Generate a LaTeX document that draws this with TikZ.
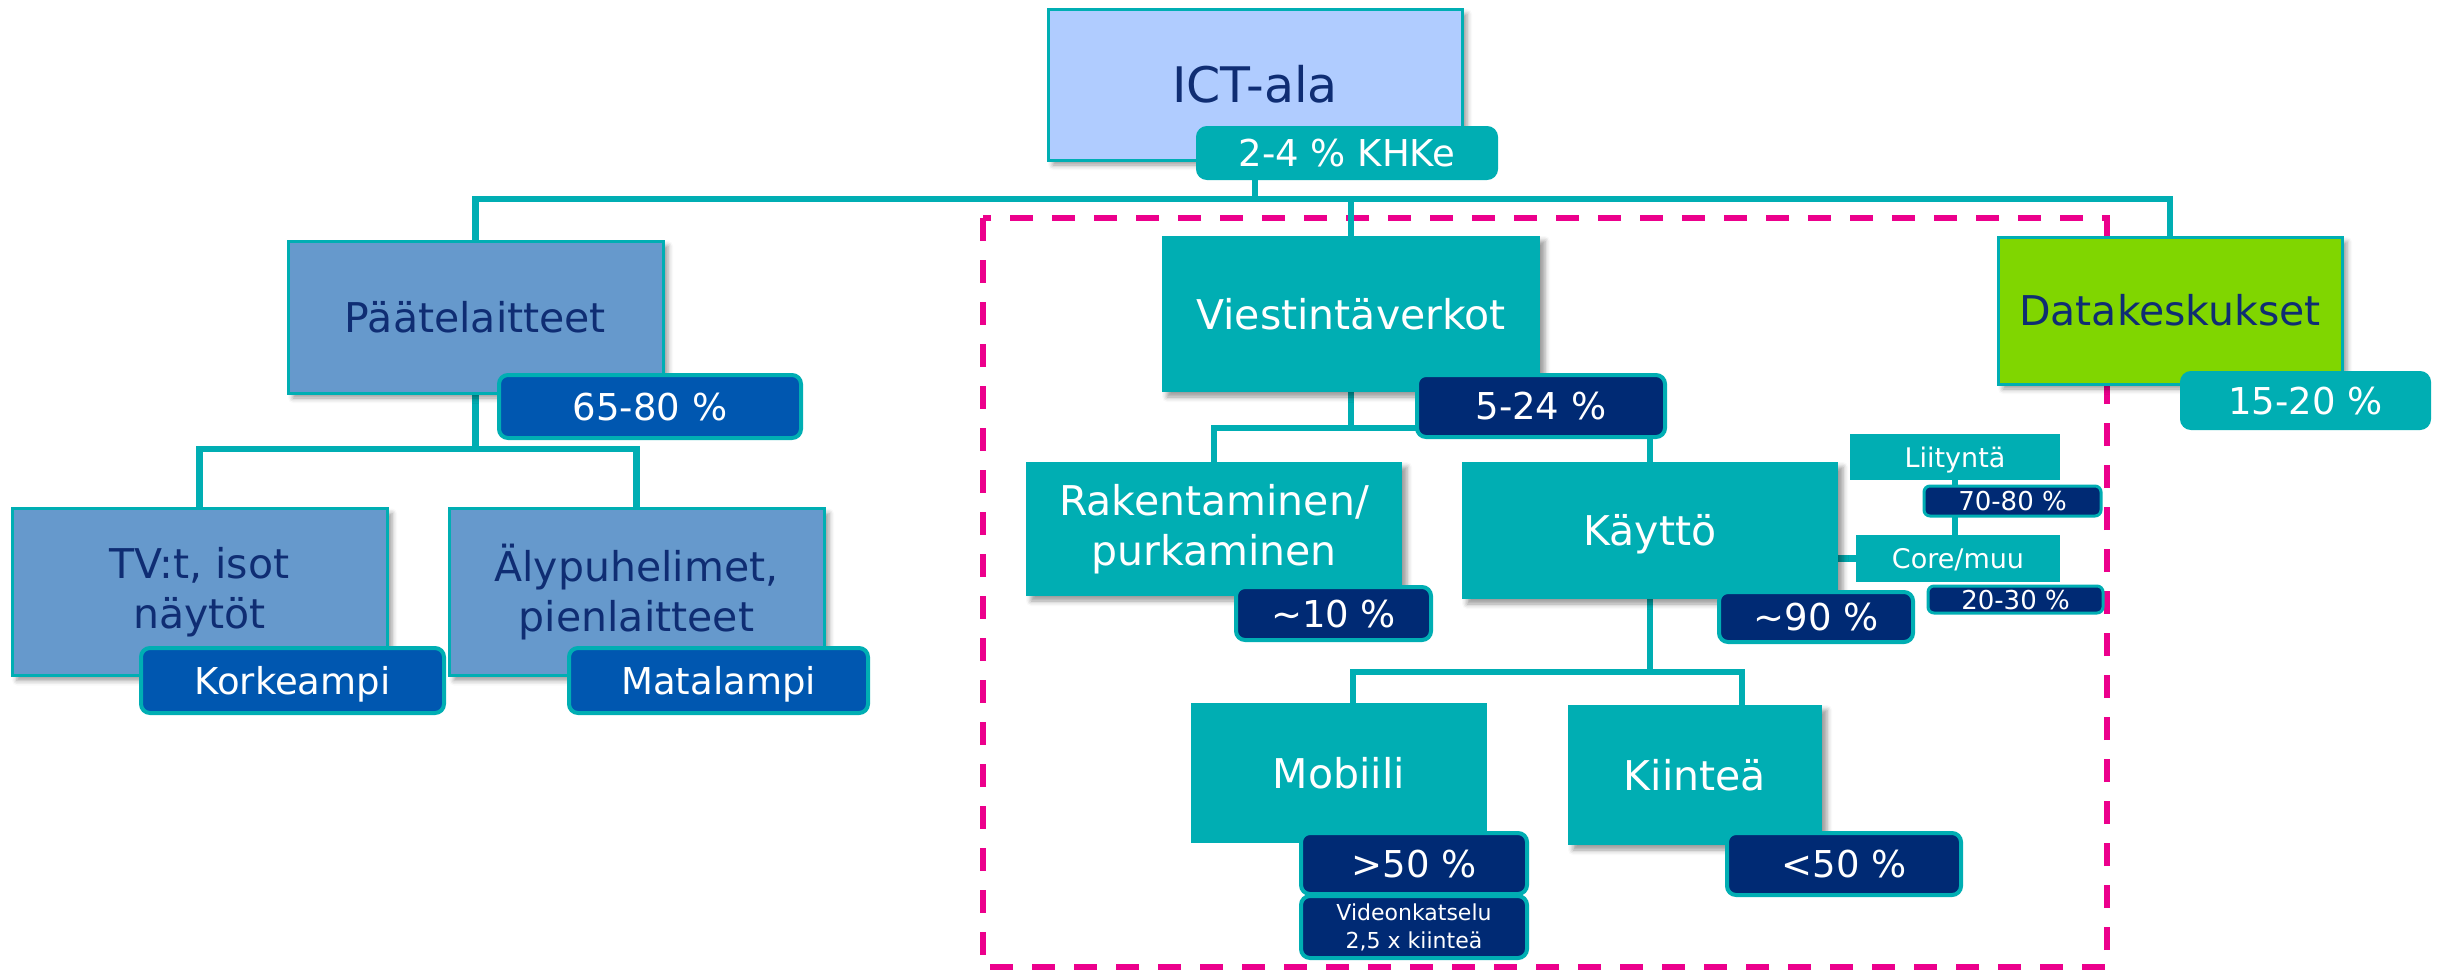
\documentclass[tikz,border=0pt]{standalone}
\usepackage{fontspec}
\setmainfont{DejaVu Sans}
\usetikzlibrary{shadows.blur,backgrounds,calc}
\definecolor{tealc}{HTML}{00AEB3}
\definecolor{navytag}{HTML}{002A74}
\definecolor{bluetag}{HTML}{0057B0}
\definecolor{navytxt}{HTML}{0F2D73}
\definecolor{lightbox}{HTML}{6699CC}
\definecolor{ictblue}{HTML}{B0CCFF}
\definecolor{greenc}{HTML}{80D600}
\definecolor{pinkc}{HTML}{EC008C}
\newcommand\myfict{\fontsize{49pt}{58pt}\selectfont}
\newcommand\myfbig{\fontsize{41pt}{50pt}\selectfont}
\newcommand\myftag{\fontsize{37pt}{44pt}\selectfont}
\newcommand\myfsmall{\fontsize{27pt}{32pt}\selectfont}
\newcommand\myfsmtag{\fontsize{26pt}{30pt}\selectfont}
\newcommand\myfvid{\fontsize{22pt}{28pt}\selectfont}
\begin{document}
\begin{tikzpicture}[x=1pt,y=-1pt,
  conn/.style={draw=tealc,line width=6.5pt},
  big/.style={rectangle,inner sep=0pt,align=center,font=\myfbig},
  oneline/.style={text height=30pt,text depth=0pt},
  shad/.style={blur shadow={shadow xshift=5pt,shadow yshift=-5pt,shadow blur radius=5pt,shadow opacity=40}},
  light/.style={big,shad,draw=tealc,line width=3pt,text=navytxt},
  tealbox/.style={big,fill=tealc,text=white},
  tagbase/.style={rectangle,rounded corners=9pt,draw=tealc,line width=4pt,inner sep=0pt,text=white,align=center},
  tag/.style={tagbase,font=\myftag,text height=27pt,text depth=0pt},
  smallbox/.style={rectangle,inner sep=0pt,fill=tealc,text=white,font=\myfsmall,text height=20pt,text depth=0pt},
  smalltag/.style={tagbase,fill=navytag,rounded corners=6pt,line width=3pt,font=\myfsmtag,text height=19pt,text depth=0pt},
  frame/.style={draw=pinkc,line width=5.5pt,dash pattern=on 23pt off 19pt}
]
\useasboundingbox (0,0) rectangle (2438,972);

% top
\node[light,fill=ictblue,font=\myfict,text height=36pt,text depth=0pt,minimum width=414pt,minimum height=151pt] (ict) at (1255,84.5) {ICT-ala};
\node[tag,fill=tealc,minimum width=298pt,minimum height=50pt] (ictT) at (1347,153) {2-4 \% KHKe};

% level 1
\node[light,oneline,fill=lightbox,minimum width=375pt,minimum height=152pt] (paat) at (475.5,317) {Päätelaitteet};
\node[tag,fill=bluetag,minimum width=302pt,minimum height=63pt] (paatT) at (650,406.5) {65-80 \%};

\node[tealbox,oneline,shad,minimum width=378pt,minimum height=156pt] (viest) at (1351,314) {Viestintäverkot};
\node[tag,fill=navytag,minimum width=248pt,minimum height=62pt] (viestT) at (1541,406) {5-24 \%};

\node[light,oneline,fill=greenc,minimum width=344pt,minimum height=147pt] (data) at (2170,310.5) {Datakeskukset};
\node[tag,fill=tealc,minimum width=247pt,minimum height=55pt] (dataT) at (2305.5,400.5) {15-20 \%};

% level 2 left
\node[light,fill=lightbox,minimum width=375pt,minimum height=167pt] (tv) at (199.5,592) {TV:t, isot\\näytöt};
\node[tag,fill=bluetag,minimum width=303pt,minimum height=65pt] (tvT) at (292.5,680.5) {Korkeampi};
\node[light,fill=lightbox,minimum width=375pt,minimum height=167pt] (aly) at (636.5,592) {Älypuhelimet,\\pienlaitteet};
\node[tag,fill=bluetag,minimum width=299pt,minimum height=65pt] (alyT) at (718.5,680.5) {Matalampi};

% level 2 middle
\node[tealbox,shad,minimum width=376pt,minimum height=134pt] (rak) at (1214,529) {Rakentaminen/\\purkaminen};
\node[tag,fill=navytag,minimum width=195pt,minimum height=53pt] (rakT) at (1333.5,613.5) {\textasciitilde10 \%};
\node[tealbox,oneline,shad,minimum width=376pt,minimum height=137pt] (kay) at (1650,530.5) {Käyttö};
\node[tag,fill=navytag,minimum width=194pt,minimum height=50pt] (kayT) at (1816,617) {\textasciitilde90 \%};

% Liityntä / Core
\node[smallbox,minimum width=210pt,minimum height=46pt] (lii) at (1955,457) {Liityntä};
\node[smalltag,minimum width=177pt,minimum height=30pt] (liiT) at (2012.5,501) {70-80 \%};
\node[smallbox,minimum width=204pt,minimum height=47pt] (core) at (1958,558.5) {Core/muu};
\node[smalltag,minimum width=175pt,minimum height=27pt] (coreT) at (2015.5,599.5) {20-30 \%};

% level 3
\node[tealbox,oneline,minimum width=296pt,minimum height=140pt] (mob) at (1339,773) {Mobiili};
\node[tag,fill=navytag,minimum width=226pt,minimum height=61pt] (mobT) at (1414,863.5) {>50 \%};
\node[tagbase,fill=navytag,font=\myfvid,minimum width=226pt,minimum height=62pt] (vid) at (1414,927) {Videonkatselu\\2,5 x kiinteä};
\node[tealbox,oneline,shad,minimum width=254pt,minimum height=140pt] (kii) at (1695,775) {Kiinteä};
\node[tag,fill=navytag,minimum width=234pt,minimum height=62pt] (kiiT) at (1844,864) {<50 \%};

% background: frame and connectors
\begin{scope}[on background layer]
  \draw[frame] (983,218) rectangle (2107,967);
  \coordinate (b0) at (0,199);
  \coordinate (b1) at (0,449);
  \coordinate (b2) at (0,428);
  \coordinate (b3) at (0,672);
  \coordinate (mobin) at ([xshift=14pt]mob.north);
  \coordinate (kiiin) at ([xshift=47pt]kii.north);
  \draw[conn] (ict.south) -- (ict.south |- b0);
  \draw[conn] (paat.north) -- (paat.north |- b0) -- (data.north |- b0) -- (data.north);
  \draw[conn] (viest.north) -- (viest.north |- b0);
  \draw[conn] (paat.south) -- (paat.south |- b1);
  \draw[conn] (tv.north) -- (tv.north |- b1) -- (aly.north |- b1) -- (aly.north);
  \draw[conn] (viest.south) -- (viest.south |- b2);
  \draw[conn] (rak.north) -- (rak.north |- b2) -- (kay.north |- b2) -- (kay.north);
  \draw[conn] (kay.south) -- (kay.south |- b3);
  \draw[conn] (mobin) -- (mobin |- b3) -- (kiiin |- b3) -- (kiiin);
  \draw[conn] (lii.south) -- (lii.south |- core.north);
  \draw[conn] (kay.east |- core.west) -- (core.west);
\end{scope}
\end{tikzpicture}
\end{document}
